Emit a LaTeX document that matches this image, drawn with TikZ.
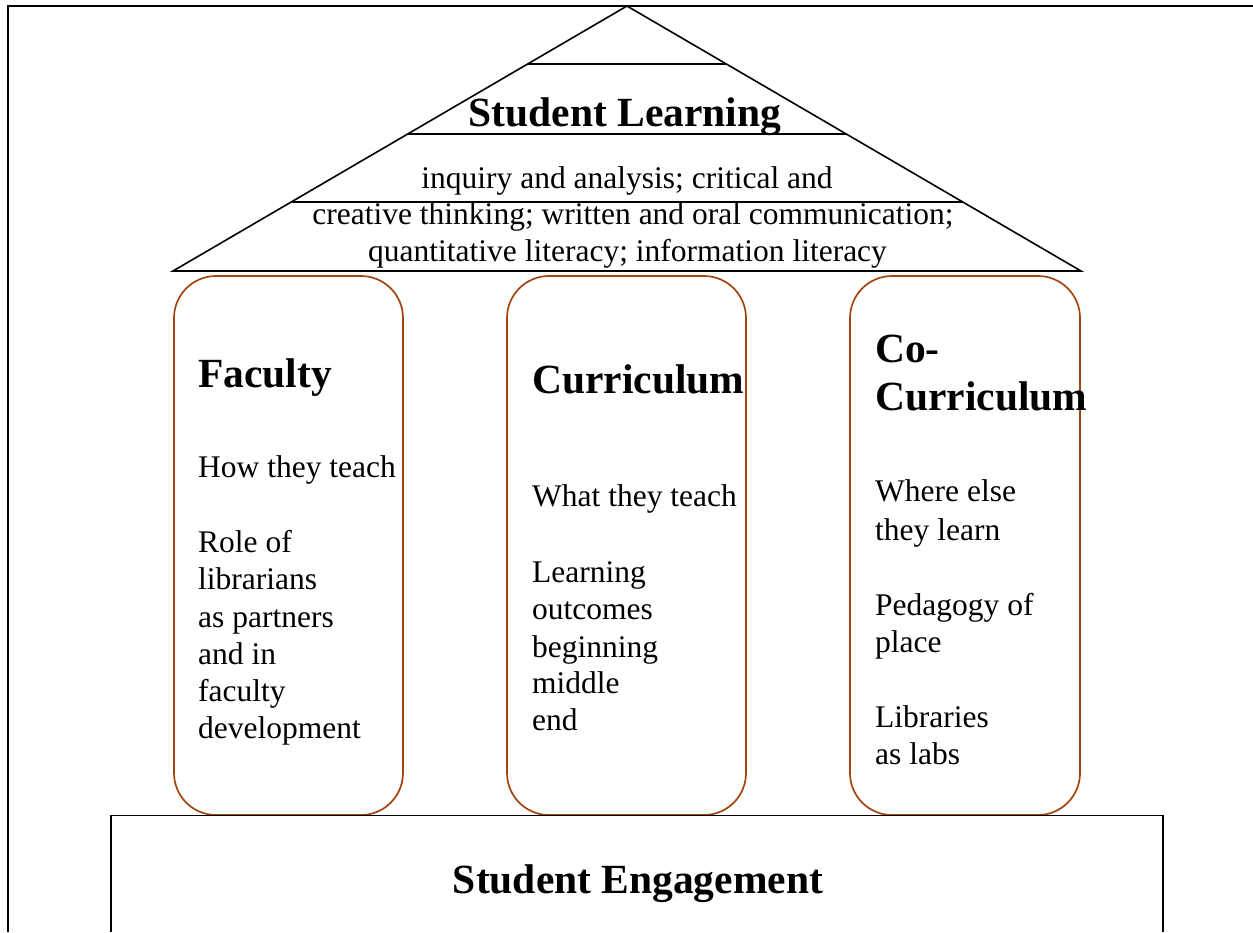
\documentclass[tikz,border=0pt]{standalone}
\usepackage{fontspec}
\setmainfont{Liberation Serif}
\definecolor{pillarbrown}{RGB}{163,68,16}
\tikzset{
  body/.style={font=\fontsize{31.5}{37.5}\selectfont, inner sep=0pt},
  title/.style={font=\fontsize{41.5}{48}\selectfont\bfseries, inner sep=0pt},
  pillar/.style={draw=pillarbrown, line width=1.7pt, rounded corners=42pt, inner sep=0pt},
  roofline/.style={draw=black, line width=1.6pt},
  frameline/.style={draw=black, line width=1.3pt}
}
\begin{document}
\begin{tikzpicture}[x=1pt,y=-1pt]
\useasboundingbox (0,0) rectangle (1253,932);
% frame
\coordinate (frTL) at (8,6);
\coordinate (frTR) at (1253,6);
\coordinate (frBL) at (8,932);
\draw[frameline] (frBL) -- (frTL) -- (frTR);
% roof
\coordinate (apex) at (627,6);
\coordinate (baseL) at (173,271);
\coordinate (baseR) at (1081,271);
\draw[roofline, line join=miter] (baseL) -- (apex) -- (baseR) -- cycle;
\foreach \yy/\nm in {64/a,134/b,202/c}{
  \path (apex) -- (baseL) coordinate[pos={(\yy-6)/265}] (l\nm);
  \path (apex) -- (baseR) coordinate[pos={(\yy-6)/265}] (r\nm);
  \draw[roofline] (l\nm) -- (r\nm);
}
\node[title, anchor=base] (sl) at (625,126) {Student Learning};
\node[body, anchor=base] (sl1) at (627,188) {inquiry and analysis; critical and};
\node[body, anchor=base] (sl2) at (633,224) {creative thinking; written and oral communication;};
\node[body, anchor=base] (sl3) at (627.5,261) {quantitative literacy; information literacy};
% pillars
\node[pillar, minimum width=229pt, minimum height=539pt] (fac) at (288.5,545.5) {};
\node[pillar, minimum width=239pt, minimum height=539pt] (cur) at (626.5,545.5) {};
\node[pillar, minimum width=230pt, minimum height=539pt] (cocur) at (965,545.5) {};
% faculty text
\node[title, anchor=base west] (ft) at (198,387) {Faculty};
\foreach \txt/\yy [count=\i] in {How they teach/477, Role of/552, librarians/589, as partners/627, and in/664, faculty/701, development/738}{
  \node[body, anchor=base west] (f\i) at (198,\yy) {\txt};
}
% curriculum text
\node[title, anchor=base west] (ct) at (532,393) {Curriculum};
\foreach \txt/\yy [count=\i] in {What they teach/506, Learning/582, outcomes/619, beginning/657, middle/693, end/730}{
  \node[body, anchor=base west] (c\i) at (532,\yy) {\txt};
}
% co-curriculum text
\node[title, anchor=base west] (cct1) at (875,362) {Co-};
\node[title, anchor=base west] (cct2) at (875,410) {Curriculum};
\foreach \txt/\yy [count=\i] in {Where else/501, they learn/540, Pedagogy of/615, place/652, Libraries/727, as labs/764}{
  \node[body, anchor=base west] (cc\i) at (875,\yy) {\txt};
}
% base box
\coordinate (bxBL) at (111,932);
\coordinate (bxTL) at (111,815.5);
\coordinate (bxTR) at (1163,815.5);
\coordinate (bxBR) at (1163,932);
\draw[frameline] (bxBL) -- (bxTL) -- (bxTR) -- (bxBR);
\node[title, anchor=base] (se) at (638,893) {Student Engagement};
\end{tikzpicture}
\end{document}
